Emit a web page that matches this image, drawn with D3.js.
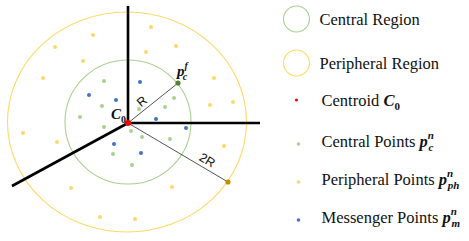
<!DOCTYPE html>
<html>
<head>
<meta charset="utf-8">
<script src="https://cdn.jsdelivr.net/npm/d3@7"></script>
<style>
  body { margin: 0; background: #fff; }
  svg { display: block; }
</style>
</head>
<body>
<svg id="chart" width="469" height="241"></svg>
<script>
// points relative to the centroid, y up
var peripheralPts = [[23,96],[-35,88],[-73,76],[48,77],[18,71],[-45,62],[-85,45],[86,45],
  [105,21],[82,18],[-105,-10],[-71,-19],[96,-23],[-57,-65],[44,-64],[-28,-94],[7,-96]];
var centralPts = [[-24,42],[-26,17],[-48,6],[-24,-4],[11,14],[37,16],[46,25],[3,-8],
  [14,-14],[42,-16],[-15,-31],[4,-42]];
var messengerPts = [[12,41],[-39,28],[-12,23],[28,4],[58,-5],[-14,-21],[13,-30]];
var axisEnds = [[0,117],[132,0],[-116,-63]];
var farCentral = [50,40];     // p_c^f
var farPeripheral = [100,-59]; // 2R end
var centralRing = {cx: 0, cy: 1, rx: 63, ry: 62};
var peripheralRing = {cx: -1, cy: 1, rx: 119.5, ry: 110};

var legendItems = ["Central Region", "Peripheral Region", "Centroid", "Central Points", "Peripheral Points", "Messenger Points"];
var legendSubs = [null, null, ["C","0",null], ["p","c","n"], ["p","ph","n"], ["p","m","n"]];

var col = {green: "#a9d18e", yellow: "#ffd966", blue: "#4472c4", red: "#ff0000"};
var serif = "'Liberation Serif', 'Times New Roman', serif";

var svg = d3.select("#chart");
var x = d3.scaleLinear().domain([-128, 341]).range([0, 469]);
var y = d3.scaleLinear().domain([123, -118]).range([0, 241]);
var kx = x(1) - x(0), ky = y(0) - y(1);

var g = svg.append("g");

g.append("ellipse")
  .attr("cx", x(peripheralRing.cx)).attr("cy", y(peripheralRing.cy))
  .attr("rx", peripheralRing.rx * kx).attr("ry", peripheralRing.ry * ky)
  .attr("fill", "none").attr("stroke", col.yellow).attr("stroke-width", 1.1);
g.append("ellipse")
  .attr("cx", x(centralRing.cx)).attr("cy", y(centralRing.cy))
  .attr("rx", centralRing.rx * kx).attr("ry", centralRing.ry * ky)
  .attr("fill", "none").attr("stroke", col.green).attr("stroke-width", 1.1);

// radius lines
[farCentral, farPeripheral].forEach(p => {
  g.append("line")
    .attr("x1", x(0)).attr("y1", y(0)).attr("x2", x(p[0])).attr("y2", y(p[1]))
    .attr("stroke", "#404040").attr("stroke-width", 0.9);
});

// axes
g.selectAll(".ax").data(axisEnds).join("line")
  .attr("class", "ax")
  .attr("x1", x(0)).attr("y1", y(0))
  .attr("x2", d => x(d[0])).attr("y2", d => y(d[1]))
  .attr("stroke", "#000").attr("stroke-width", 2.6);

function dots(data, fill, r) {
  g.append("g").selectAll("circle").data(data).join("circle")
    .attr("cx", d => x(d[0])).attr("cy", d => y(d[1]))
    .attr("r", r).attr("fill", fill);
}
dots(peripheralPts, col.yellow, 2);
dots(centralPts, col.green, 2);
dots(messengerPts, col.blue, 2);
dots([farCentral], "#548235", 2.6);
dots([farPeripheral], "#bf9000", 2.6);
dots([[0, 0]], col.red, 3);

// math style label: base, sub, sup
function mathText(t, m, size) {
  var small = Math.round(size * 0.66);
  t.append("tspan").attr("font-family", serif).attr("font-weight", "bold").attr("font-style", "italic").text(m[0]);
  if (m[2]) {
    t.append("tspan").attr("font-family", serif).attr("font-weight", "bold").attr("font-style", "italic")
      .attr("font-size", small).attr("dy", -size * 0.45).text(m[2]);
    t.append("tspan").attr("font-family", serif).attr("font-weight", "bold").attr("font-style", "italic")
      .attr("font-size", small).attr("dx", -small * 0.5).attr("dy", size * 0.72).text(m[1]);
  } else {
    t.append("tspan").attr("font-family", serif).attr("font-weight", "bold")
      .attr("font-size", small).attr("dy", size * 0.28).text(m[1]);
  }
}
var c0 = g.append("text").attr("font-size", 15).attr("fill", "#111").attr("x", x(-17)).attr("y", y(4));
mathText(c0, ["C", "0", null], 15);
var pcf = g.append("text").attr("font-size", 15).attr("fill", "#111").attr("x", x(49)).attr("y", y(47));
mathText(pcf, ["p", "c", "f"], 15);

function rotLabel(txt, p, frac, off) {
  var ang = Math.atan2(y(p[1]) - y(0), x(p[0]) - x(0)) * 180 / Math.PI;
  var px = x(p[0] * frac), py = y(p[1] * frac);
  g.append("text")
    .attr("transform", `translate(${px},${py}) rotate(${ang}) translate(0,${off})`)
    .attr("text-anchor", "middle")
    .attr("font-family", "'Liberation Sans', Arial, sans-serif")
    .attr("font-size", 12.5).attr("fill", "#111")
    .text(txt);
}
rotLabel("R", farCentral, 0.38, -4);
rotLabel("2R", farPeripheral, 0.75, -4);

// legend
var lx = 296.5;
var legY = [19, 63, 100, 144, 182, 220];
var textY = [25, 68.5, 105.5, 146.5, 184.5, 222.5];
var lg = svg.append("g");
lg.append("circle").attr("cx", lx).attr("cy", legY[0]).attr("r", 13)
  .attr("fill", "none").attr("stroke", col.green).attr("stroke-width", 1.1);
lg.append("circle").attr("cx", lx).attr("cy", legY[1]).attr("r", 13)
  .attr("fill", "none").attr("stroke", col.yellow).attr("stroke-width", 1.1);
lg.append("circle").attr("cx", lx).attr("cy", legY[2]).attr("r", 1.6).attr("fill", col.red);
[col.green, col.yellow, col.blue].forEach((c, i) => {
  lg.append("circle").attr("cx", lx + 2).attr("cy", legY[i + 3]).attr("r", 1.8).attr("fill", c);
});

legendItems.forEach((s, i) => {
  var t = lg.append("text")
    .attr("font-family", serif).attr("font-size", 16.5).attr("fill", "#111")
    .attr("x", i < 2 ? 319.5 : 321.5).attr("y", textY[i]);
  t.append("tspan").text(s + (legendSubs[i] ? "\u00a0" : ""));
  if (legendSubs[i]) mathText(t, legendSubs[i], 16.5);
});
</script>
</body>
</html>
